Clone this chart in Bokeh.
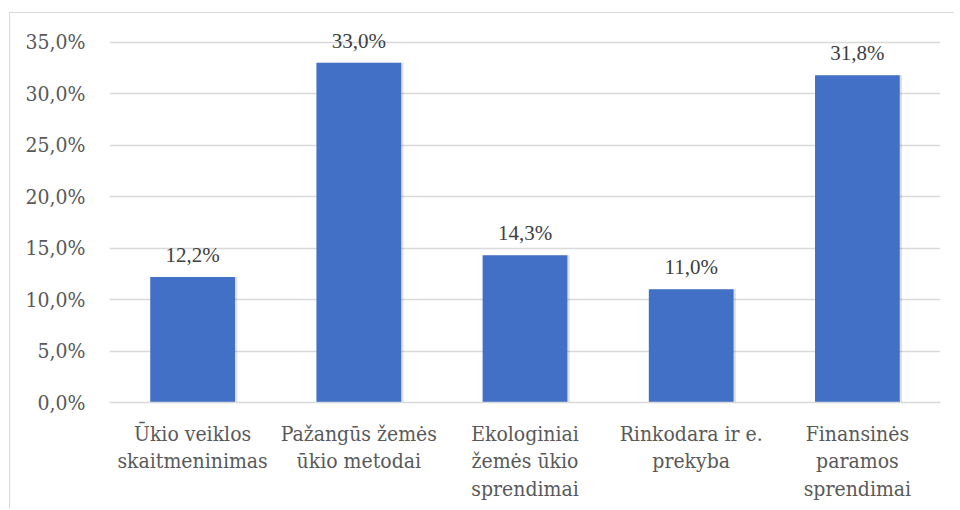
from bokeh.plotting import figure
from bokeh.models import ColumnDataSource, LabelSet, FixedTicker, Range1d
from bokeh.transform import dodge
from bokeh.embed import file_html
from bokeh.resources import INLINE

categories = [
    "Ūkio veiklos\nskaitmeninimas",
    "Pažangūs žemės\nūkio metodai",
    "Ekologiniai\nžemės ūkio\nsprendimai",
    "Rinkodara ir e.\nprekyba",
    "Finansinės\nparamos\nsprendimai",
]
values = [12.2, 33.0, 14.3, 11.0, 31.8]
y_ticks = [0, 5, 10, 15, 20, 25, 30, 35]

labels = [f"{v:.1f}%".replace(".", ",") for v in values]
tick_labels = {t: f"{t:.1f}%".replace(".", ",") for t in y_ticks}

src = ColumnDataSource(dict(cat=categories, val=values, lab=labels))

FONT = "DejaVu Serif Condensed"
GREY = "#595959"

p = figure(
    x_range=categories,
    y_range=Range1d(0, 37.5),
    width=945,
    height=496,
    output_backend="svg",
    toolbar_location=None,
    min_border_left=99,
    min_border_right=15,
    min_border_top=3,
    min_border_bottom=107,
)
p.styles = {
    "margin-left": "9px",
    "margin-top": "12px",
    "border-left": "1px solid #d9d9d9",
    "border-top": "1px solid #d9d9d9",
}
p.outline_line_color = None

p.vbar(x=dodge("cat", 0.014, range=p.x_range), top="val", bottom=-0.25, width=0.51,
       source=src, fill_color="#000000", fill_alpha=0.12, line_color=None)
p.vbar(x="cat", top="val", width=0.51, source=src,
       fill_color="#4270C6", line_color=None)

p.add_layout(LabelSet(x="cat", y="val", text="lab", source=src,
                      text_align="center", text_baseline="bottom", y_offset=10,
                      text_font=FONT, text_font_size="21px", text_color="#404040"))

p.ygrid.ticker = FixedTicker(ticks=y_ticks)
p.ygrid.grid_line_color = "#d9d9d9"
p.ygrid.grid_line_width = 1.3
p.xgrid.grid_line_color = None

p.yaxis.ticker = FixedTicker(ticks=y_ticks)
p.yaxis.major_label_overrides = tick_labels
p.yaxis.axis_line_color = None
p.yaxis.major_tick_line_color = None
p.yaxis.minor_tick_line_color = None
p.yaxis.major_label_standoff = 18
p.yaxis.major_label_text_font = FONT
p.yaxis.major_label_text_font_size = "21px"
p.yaxis.major_label_text_color = GREY

p.xaxis.axis_line_color = "#d9d9d9"
p.xaxis.axis_line_width = 1.5
p.xaxis.major_tick_line_color = None
p.xaxis.minor_tick_line_color = None
p.xaxis.major_label_standoff = 13
p.xaxis.major_label_text_font = FONT
p.xaxis.major_label_text_font_size = "21px"
p.xaxis.major_label_text_color = GREY
p.xaxis.major_label_text_align = "center"
p.xaxis.major_label_text_line_height = 1.15
p.xaxis.major_label_orientation = "horizontal"

open("out.html", "w").write(file_html(p, INLINE))
